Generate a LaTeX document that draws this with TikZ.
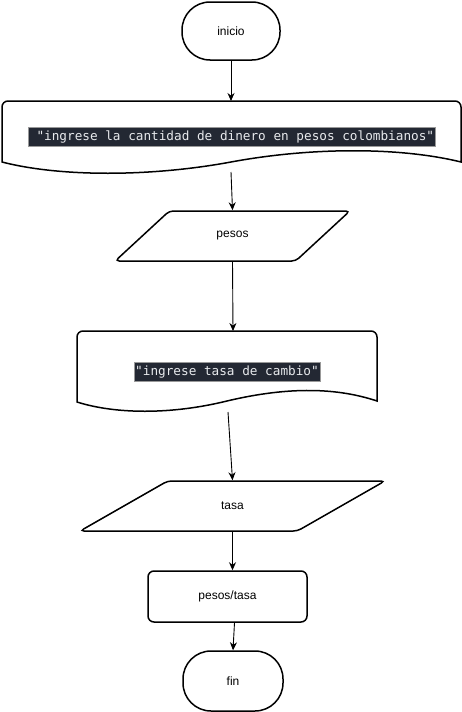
\documentclass[tikz,border=0pt]{standalone}
\usepackage{fontspec}
\setmainfont{Liberation Sans}
\newfontfamily\codefont{DejaVu Sans Mono}
\usetikzlibrary{arrows.meta,positioning,calc,shapes.geometric}
\definecolor{codebg}{RGB}{35,40,51}
\definecolor{codefg}{RGB}{232,234,237}
\tikzset{
  label/.style={font=\fontsize{12}{14}\selectfont},
  term/.style={rectangle, rounded corners=28pt, draw=black, line width=1.5pt,
    minimum width=98pt, minimum height=58pt, label},
  iobox/.style={trapezium, trapezium stretches=true, draw=black, line width=1.5pt,
    rounded corners=4pt, minimum height=50pt, label},
  procbox/.style={rectangle, rounded corners=6pt, draw=black, line width=1.5pt,
    minimum width=159pt, minimum height=51pt, label},
  codetxt/.style={fill=codebg, draw=black!40, line width=0.4pt, text=codefg,
    font=\codefont\fontsize{12.7}{15}\selectfont, inner xsep=1pt, inner ysep=3pt,
    text height=10pt, text depth=3pt},
  docline/.style={draw=black, line width=1.5pt},
  flow/.style={-{Stealth[length=8pt, width=7pt]}, line width=0.9pt, draw=black},
}
\begin{document}
\begin{tikzpicture}[x=1pt, y=-1pt]
  \useasboundingbox (0,0) rectangle (462,712);
  \fill[white] (0,0) rectangle (462,712);

  \node[term] (inicio) at (231,31) {inicio};

  % first message
  \draw[docline] (2,162) [rounded corners=6pt] -- (2,101) -- (461,101) -- (461,130)
    [sharp corners] -- (461,162) .. controls (400,147) and (312,147) .. (231,162)
    .. controls (150,177) and (60,177) .. (2,162) -- cycle;
  \node[codetxt] (ask1) at (231.5,136.5) {\ "ingrese la cantidad de dinero en pesos colombianos"};
  \coordinate (d1top) at (231,101);
  \coordinate (d1bot) at (231,172);

  \node[iobox, trapezium left angle=43.3, trapezium right angle=136.7,
    minimum width=235pt] (pesos) at (232.5,236) {pesos};

  % second message
  \draw[docline] (77,402) [rounded corners=6pt] -- (77,331) -- (377,331) -- (377,370)
    [sharp corners] -- (377,401) .. controls (338,388) and (290,386) .. (227,401)
    .. controls (170,415) and (115,414) .. (77,402) -- cycle;
  \node[codetxt] (ask2) at (227,372) {"ingrese tasa de cambio"};
  \coordinate (d2top) at (233,331);
  \coordinate (d2bot) at (228,412);

  \node[iobox, trapezium left angle=36.3, trapezium right angle=143.7,
    minimum width=305pt] (tasa) at (232.5,506) {tasa};

  \node[procbox] (calc) at (227.5,596.5) {pesos/tasa};

  \node[term, minimum width=100pt, minimum height=60pt] (fin) at (233,681) {fin};

  \draw[flow] (inicio) -- (d1top);
  \draw[flow] (d1bot) -- (pesos.north);
  \draw[flow] (pesos.south) -- (d2top);
  \draw[flow] (d2bot) -- (tasa.north);
  \draw[flow] (tasa.south) -- (tasa.south |- calc.north);
  \draw[flow] ([xshift=7pt]calc.south) -- (fin.north);
\end{tikzpicture}
\end{document}
